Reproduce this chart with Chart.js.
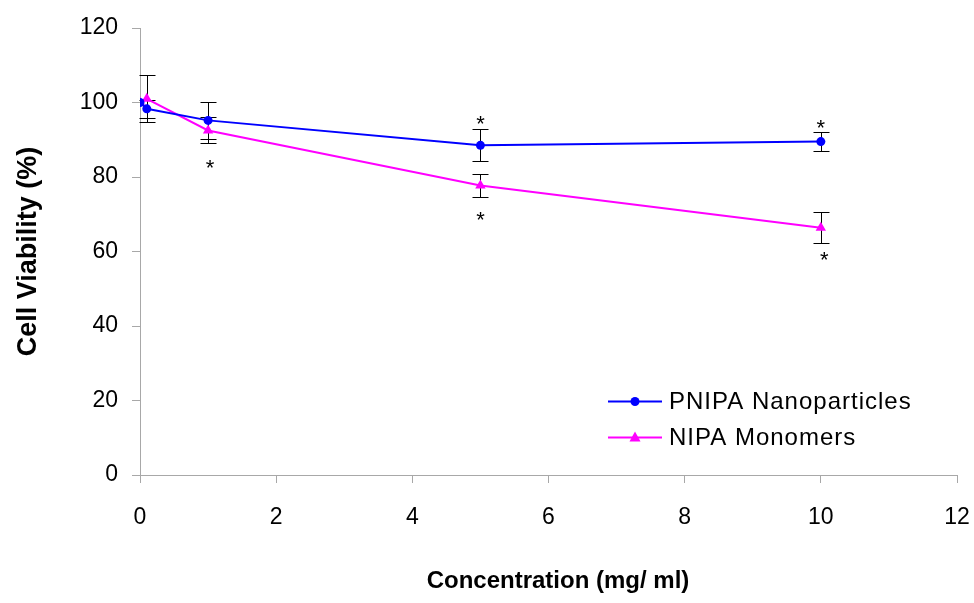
<!DOCTYPE html>
<html>
<head>
<meta charset="utf-8">
<script src="https://cdn.jsdelivr.net/npm/chart.js@4"></script>
<style>
  body { margin: 0; background: #fff; }
</style>
</head>
<body>
<canvas id="chart" width="974" height="603"></canvas>
<script>
// Concentration (mg/ml) and cell viability (%)
const concentrations = [0, 0.1, 1, 5, 10];
const pnipaMean = [100, 98.3, 95.2, 88.5, 89.5];
const pnipaErr = [0, 2.4, 5.0, 4.3, 2.6];
const nipaMean = [100, 101, 92.5, 77.7, 66.4];
const nipaErr = [0, 6.3, 3.5, 3.1, 4.2];

// significance markers (*)
const starX = [1.03, 5, 5, 10, 10.05];
const starY = [84, 95.6, 69.8, 94.5, 59.3];

const xTicks = [0, 2, 4, 6, 8, 10, 12];
const yTicks = [0, 20, 40, 60, 80, 100, 120];

const FONT = '"Liberation Sans", Arial, sans-serif';
const BLUE = '#0000ff';
const MAGENTA = '#ff00ff';

const toPoints = (ys) => concentrations.map((x, i) => ({ x: x, y: ys[i] }));

const errorBars = {
  id: 'errorBars',
  beforeDatasetsDraw(chart) {
    const ctx = chart.ctx;
    const xs = chart.scales.x, ys = chart.scales.y;
    const sets = [[pnipaMean, pnipaErr], [nipaMean, nipaErr]];
    ctx.save();
    ctx.strokeStyle = '#000';
    ctx.lineWidth = 1;
    sets.forEach(([m, e]) => {
      concentrations.forEach((c, i) => {
        if (!e[i]) return;
        const px = Math.round(xs.getPixelForValue(c)) + 0.5;
        const top = Math.round(ys.getPixelForValue(m[i] + e[i])) + 0.5;
        const bot = Math.round(ys.getPixelForValue(m[i] - e[i])) + 0.5;
        ctx.beginPath();
        ctx.moveTo(px, top); ctx.lineTo(px, bot);
        ctx.moveTo(px - 8, top); ctx.lineTo(px + 8, top);
        ctx.moveTo(px - 8, bot); ctx.lineTo(px + 8, bot);
        ctx.stroke();
      });
    });
    ctx.restore();
  },
  afterDraw(chart) {
    const ctx = chart.ctx;
    const xs = chart.scales.x, ys = chart.scales.y;
    ctx.save();
    // asterisks
    ctx.fillStyle = '#000';
    ctx.font = '22px ' + FONT;
    ctx.textAlign = 'center';
    ctx.textBaseline = 'alphabetic';
    starX.forEach((x, i) => {
      ctx.fillText('*', xs.getPixelForValue(x), ys.getPixelForValue(starY[i]) + 12.5);
    });
    // x axis title (sits a little right of centre in the original)
    ctx.font = 'bold 24px ' + FONT;
    ctx.textBaseline = 'middle';
    ctx.fillText('Concentration (mg/ ml)', 558, 581);
    // legend
    const items = [
      { text: 'PNIPA Nanoparticles', color: BLUE, shape: 'circle', y: 401.5 },
      { text: 'NIPA Monomers', color: MAGENTA, shape: 'triangle', y: 437.5 }
    ];
    items.forEach(it => {
      ctx.strokeStyle = it.color;
      ctx.fillStyle = it.color;
      ctx.lineWidth = 2;
      ctx.beginPath();
      ctx.moveTo(608, it.y); ctx.lineTo(662, it.y);
      ctx.stroke();
      ctx.beginPath();
      if (it.shape === 'circle') {
        ctx.arc(635, it.y, 4.5, 0, Math.PI * 2);
      } else {
        ctx.moveTo(635, it.y - 6);
        ctx.lineTo(640.5, it.y + 4);
        ctx.lineTo(629.5, it.y + 4);
        ctx.closePath();
      }
      ctx.fill();
      ctx.fillStyle = '#000';
      ctx.font = '24px ' + FONT;
      ctx.letterSpacing = '1px';
      ctx.textAlign = 'left';
      ctx.textBaseline = 'middle';
      ctx.fillText(it.text, 669, it.y + 1);
      ctx.letterSpacing = '0px';
    });
    ctx.restore();
  }
};

new Chart(document.getElementById('chart'), {
  type: 'line',
  data: {
    datasets: [
      {
        label: 'PNIPA Nanoparticles',
        data: toPoints(pnipaMean),
        borderColor: BLUE,
        backgroundColor: BLUE,
        borderWidth: 2,
        pointStyle: 'circle',
        pointRadius: 4.5,
        pointBorderWidth: 0,
        tension: 0,
        fill: false
      },
      {
        label: 'NIPA Monomers',
        data: toPoints(nipaMean),
        borderColor: MAGENTA,
        backgroundColor: MAGENTA,
        borderWidth: 2,
        pointStyle: 'triangle',
        pointRadius: 6,
        pointBorderWidth: 0,
        tension: 0,
        fill: false
      }
    ]
  },
  options: {
    responsive: false,
    animation: false,
    layout: { padding: { top: 28, right: 17, left: 0, bottom: 0 } },
    plugins: {
      legend: { display: false },
      tooltip: { enabled: false }
    },
    scales: {
      x: {
        type: 'linear',
        min: 0, max: 12,
        afterBuildTicks: (s) => { s.ticks = xTicks.map(v => ({ value: v })); },
        afterFit: (s) => { s.height = 128; s.paddingLeft = 0; s.paddingRight = 0; },
        grid: { drawOnChartArea: false, drawTicks: true, tickLength: 8, color: '#a8a8a8' },
        border: { color: '#a8a8a8', width: 1 },
        ticks: { color: '#000', font: { family: FONT, size: 23 }, padding: 21 },
        title: { display: false }
      },
      y: {
        min: 0, max: 120,
        afterBuildTicks: (s) => { s.ticks = yTicks.map(v => ({ value: v })); },
        afterFit: (s) => { s.width = 140; },
        grid: { drawOnChartArea: false, drawTicks: true, tickLength: 8, color: '#a8a8a8' },
        border: { color: '#a8a8a8', width: 1 },
        ticks: { color: '#000', font: { family: FONT, size: 23 }, padding: 14 },
        title: {
          display: true,
          text: 'Cell Viability (%)',
          color: '#000',
          font: { family: FONT, size: 27, weight: 'bold' },
          padding: { top: 12, bottom: 0 }
        }
      }
    }
  },
  plugins: [errorBars]
});
</script>
</body>
</html>
